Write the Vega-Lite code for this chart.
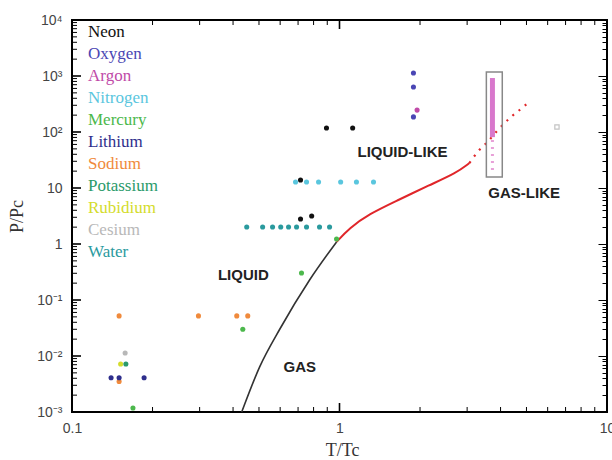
{
  "$schema": "https://vega.github.io/schema/vega-lite/v6.json",
  "width": 535,
  "height": 392,
  "autosize": {"type": "none"},
  "padding": {"left": 72, "top": 20, "right": 5, "bottom": 48},
  "background": "white",
  "config": {
    "view": {"stroke": "#000", "strokeWidth": 2},
    "axis": {
      "domain": false,
      "grid": false,
      "labelFont": "Liberation Sans",
      "labelFontSize": 14,
      "labelColor": "#444",
      "titleFont": "Liberation Serif",
      "titleFontSize": 18,
      "titleFontWeight": "normal",
      "titleColor": "#333"
    }
  },
  "datasets": {
    "points": [
      {"substance": "Sodium", "T": 0.15, "P": 0.052},
      {"substance": "Sodium", "T": 0.297, "P": 0.052},
      {"substance": "Sodium", "T": 0.413, "P": 0.052},
      {"substance": "Sodium", "T": 0.454, "P": 0.052},
      {"substance": "Sodium", "T": 0.15, "P": 0.0035},
      {"substance": "Cesium", "T": 0.158, "P": 0.0113},
      {"substance": "Rubidium", "T": 0.152, "P": 0.0072},
      {"substance": "Potassium", "T": 0.159, "P": 0.0072},
      {"substance": "Lithium", "T": 0.14, "P": 0.0041},
      {"substance": "Lithium", "T": 0.15, "P": 0.0041},
      {"substance": "Lithium", "T": 0.186, "P": 0.0041},
      {"substance": "Mercury", "T": 0.169, "P": 0.00118},
      {"substance": "Mercury", "T": 0.435, "P": 0.03},
      {"substance": "Mercury", "T": 0.721, "P": 0.303},
      {"substance": "Mercury", "T": 0.975, "P": 1.23},
      {"substance": "Water", "T": 0.45, "P": 2.01},
      {"substance": "Water", "T": 0.516, "P": 2.01},
      {"substance": "Water", "T": 0.562, "P": 2.01},
      {"substance": "Water", "T": 0.603, "P": 2.01},
      {"substance": "Water", "T": 0.645, "P": 2.01},
      {"substance": "Water", "T": 0.691, "P": 2.01},
      {"substance": "Water", "T": 0.753, "P": 2.01},
      {"substance": "Water", "T": 0.842, "P": 2.01},
      {"substance": "Water", "T": 0.918, "P": 2.01},
      {"substance": "Nitrogen", "T": 0.685, "P": 12.8},
      {"substance": "Nitrogen", "T": 0.753, "P": 12.8},
      {"substance": "Nitrogen", "T": 0.835, "P": 12.8},
      {"substance": "Nitrogen", "T": 1.01, "P": 12.8},
      {"substance": "Nitrogen", "T": 1.157, "P": 12.8},
      {"substance": "Nitrogen", "T": 1.34, "P": 12.8},
      {"substance": "Neon", "T": 0.894, "P": 118},
      {"substance": "Neon", "T": 1.12, "P": 118},
      {"substance": "Neon", "T": 0.715, "P": 13.9},
      {"substance": "Neon", "T": 0.715, "P": 2.79},
      {"substance": "Neon", "T": 0.787, "P": 3.16},
      {"substance": "Oxygen", "T": 1.89, "P": 1130},
      {"substance": "Oxygen", "T": 1.89, "P": 635},
      {"substance": "Oxygen", "T": 1.89, "P": 186},
      {"substance": "Argon", "T": 1.95, "P": 246}
    ],
    "coexistence": [
      {"T": 0.431, "P": 0.001},
      {"T": 0.503, "P": 0.0064},
      {"T": 0.6, "P": 0.031},
      {"T": 0.773, "P": 0.228},
      {"T": 0.975, "P": 1.09}
    ],
    "widom": [
      {"T": 0.975, "P": 1.09},
      {"T": 1.09, "P": 1.93},
      {"T": 1.29, "P": 3.43},
      {"T": 1.63, "P": 5.86},
      {"T": 2.17, "P": 11.3},
      {"T": 2.73, "P": 18.5},
      {"T": 3.06, "P": 27.9}
    ],
    "widomExt": [
      {"T": 3.06, "P": 27.9},
      {"T": 3.33, "P": 47.7},
      {"T": 3.57, "P": 66},
      {"T": 3.92, "P": 110},
      {"T": 4.38, "P": 186},
      {"T": 4.82, "P": 270},
      {"T": 5.1, "P": 340}
    ],
    "argon": [
      {"substance": "Argon", "T": 3.73, "Plo": 81, "Phi": 920, "part": "dense"},
      {"substance": "Argon", "T": 3.73, "Plo": 21, "Phi": 81, "part": "sparse"}
    ],
    "box": [{"T1": 3.54, "T2": 4.06, "P1": 15.7, "P2": 1180}],
    "cesiumSC": [{"substance": "Cesium", "T": 6.5, "P": 123}],
    "labels": [
      {"label": "LIQUID-LIKE", "T": 1.72, "P": 44},
      {"label": "GAS-LIKE", "T": 4.9, "P": 8.1},
      {"label": "LIQUID", "T": 0.437, "P": 0.28},
      {"label": "GAS", "T": 0.71, "P": 0.0063}
    ],
    "xMinor": [{"T": 0.2}, {"T": 0.3}, {"T": 0.4}, {"T": 0.5}, {"T": 0.6}, {"T": 0.7}, {"T": 0.8}, {"T": 0.9}, {"T": 2}, {"T": 3}, {"T": 4}, {"T": 5}, {"T": 6}, {"T": 7}, {"T": 8}, {"T": 9}],
    "xMajor": [{"T": 0.1}, {"T": 1}, {"T": 10}],
    "yMinor": [{"P": 0.002}, {"P": 0.003}, {"P": 0.004}, {"P": 0.005}, {"P": 0.006}, {"P": 0.007}, {"P": 0.008}, {"P": 0.009}, {"P": 0.02}, {"P": 0.03}, {"P": 0.04}, {"P": 0.05}, {"P": 0.06}, {"P": 0.07}, {"P": 0.08}, {"P": 0.09}, {"P": 0.2}, {"P": 0.3}, {"P": 0.4}, {"P": 0.5}, {"P": 0.6}, {"P": 0.7}, {"P": 0.8}, {"P": 0.9}, {"P": 2}, {"P": 3}, {"P": 4}, {"P": 5}, {"P": 6}, {"P": 7}, {"P": 8}, {"P": 9}, {"P": 20}, {"P": 30}, {"P": 40}, {"P": 50}, {"P": 60}, {"P": 70}, {"P": 80}, {"P": 90}, {"P": 200}, {"P": 300}, {"P": 400}, {"P": 500}, {"P": 600}, {"P": 700}, {"P": 800}, {"P": 900}, {"P": 2000}, {"P": 3000}, {"P": 4000}, {"P": 5000}, {"P": 6000}, {"P": 7000}, {"P": 8000}, {"P": 9000}],
    "yMajor": [{"P": 0.001}, {"P": 0.01}, {"P": 0.1}, {"P": 1}, {"P": 10}, {"P": 100}, {"P": 1000}, {"P": 10000}]
  },
  "resolve": {"axis": {"x": "independent", "y": "independent"}},
  "layer": [
    {
      "data": {"name": "coexistence"},
      "mark": {"type": "line", "color": "#333", "strokeWidth": 1.6, "interpolate": "monotone"},
      "encoding": {
        "x": {
          "field": "T", "type": "quantitative",
          "scale": {"type": "log", "domain": [0.1, 10], "nice": false},
          "axis": {
            "orient": "bottom",
            "values": [0.1, 1, 10],
            "labelExpr": "datum.value==0.1?'0.1':datum.value==1?'1':'10'",
            "labelFlush": false,
            "ticks": false,
            "labelPadding": 9,
            "title": "T/Tc",
            "titleX": 270,
            "titleY": 38,
            "titleBaseline": "middle"
          }
        },
        "y": {
          "field": "P", "type": "quantitative",
          "scale": {"type": "log", "domain": [0.001, 10000], "nice": false},
          "axis": {
            "orient": "left",
            "values": [0.001, 0.01, 0.1, 1, 10, 100, 1000, 10000],
            "labelExpr": "datum.value==10000?'10⁴':datum.value==1000?'10³':datum.value==100?'10²':datum.value==10?'10':datum.value==1?'1':datum.value==0.1?'10⁻¹':datum.value==0.01?'10⁻²':'10⁻³'",
            "ticks": false,
            "labelPadding": 10,
            "title": "P/Pc",
            "titleX": -55,
            "titleY": 196,
            "titleAngle": -90,
            "titleBaseline": "middle",
            "titleAlign": "center"
          }
        }
      }
    },
    {
      "data": {"name": "coexistence"},
      "mark": {"type": "point", "opacity": 0},
      "encoding": {
        "x": {"field": "T", "type": "quantitative", "axis": null},
        "y": {
          "field": "P", "type": "quantitative",
          "axis": {"orient": "right", "values": [0.002,0.003,0.004,0.005,0.006,0.007,0.008,0.009,0.02,0.03,0.04,0.05,0.06,0.07,0.08,0.09,0.2,0.3,0.4,0.5,0.6,0.7,0.8,0.9,2,3,4,5,6,7,8,9,20,30,40,50,60,70,80,90,200,300,400,500,600,700,800,900,2000,3000,4000,5000,6000,7000,8000,9000], "labels": false, "title": null, "tickSize": -5, "tickColor": "#000"}
        }
      }
    },
    {
      "data": {"name": "coexistence"},
      "mark": {"type": "point", "opacity": 0},
      "encoding": {
        "x": {"field": "T", "type": "quantitative", "axis": null},
        "y": {
          "field": "P", "type": "quantitative",
          "axis": {"orient": "right", "values": [0.001,0.01,0.1,1,10,100,1000,10000], "labels": false, "title": null, "tickSize": -9, "tickColor": "#000"}
        }
      }
    },
    {
      "data": {"name": "yMinor"},
      "mark": {"type": "tick", "orient": "horizontal", "color": "#000", "opacity": 1, "size": 5, "thickness": 1, "xOffset": 2.5},
      "encoding": {
        "x": {"datum": 0.1, "type": "quantitative", "axis": null},
        "y": {"field": "P", "type": "quantitative", "axis": null}
      }
    },
    {
      "data": {"name": "yMajor"},
      "mark": {"type": "tick", "orient": "horizontal", "color": "#000", "opacity": 1, "size": 9, "thickness": 1.6, "xOffset": 4.5},
      "encoding": {
        "x": {"datum": 0.1, "type": "quantitative", "axis": null},
        "y": {"field": "P", "type": "quantitative", "axis": null}
      }
    },
    {
      "data": {"name": "xMinor"},
      "mark": {"type": "tick", "orient": "vertical", "color": "#000", "opacity": 1, "size": 5, "thickness": 1, "yOffset": -2.5},
      "encoding": {
        "x": {"field": "T", "type": "quantitative", "axis": null},
        "y": {"datum": 0.001, "type": "quantitative", "axis": null}
      }
    },
    {
      "data": {"name": "xMajor"},
      "mark": {"type": "tick", "orient": "vertical", "color": "#000", "opacity": 1, "size": 9, "thickness": 1.6, "yOffset": -4.5},
      "encoding": {
        "x": {"field": "T", "type": "quantitative", "axis": null},
        "y": {"datum": 0.001, "type": "quantitative", "axis": null}
      }
    },
    {
      "data": {"name": "xMinor"},
      "mark": {"type": "tick", "orient": "vertical", "color": "#000", "opacity": 1, "size": 5, "thickness": 1, "yOffset": 2.5},
      "encoding": {
        "x": {"field": "T", "type": "quantitative", "axis": null},
        "y": {"datum": 10000, "type": "quantitative", "axis": null}
      }
    },
    {
      "data": {"name": "xMajor"},
      "mark": {"type": "tick", "orient": "vertical", "color": "#000", "opacity": 1, "size": 9, "thickness": 1.6, "yOffset": 4.5},
      "encoding": {
        "x": {"field": "T", "type": "quantitative", "axis": null},
        "y": {"datum": 10000, "type": "quantitative", "axis": null}
      }
    },
    {
      "data": {"name": "widom"},
      "mark": {"type": "line", "color": "#e0262a", "strokeWidth": 2, "interpolate": "basis"},
      "encoding": {
        "x": {"field": "T", "type": "quantitative", "axis": null},
        "y": {"field": "P", "type": "quantitative", "axis": null}
      }
    },
    {
      "data": {"name": "widomExt"},
      "mark": {"type": "line", "color": "#e0262a", "strokeWidth": 2.2, "strokeDash": [2, 6], "interpolate": "monotone"},
      "encoding": {
        "x": {"field": "T", "type": "quantitative", "axis": null},
        "y": {"field": "P", "type": "quantitative", "axis": null}
      }
    },
    {
      "data": {"name": "box"},
      "mark": {"type": "rect", "fill": null, "stroke": "#888", "strokeWidth": 1.5},
      "encoding": {
        "x": {"field": "T1", "type": "quantitative", "axis": null},
        "x2": {"field": "T2"},
        "y": {"field": "P1", "type": "quantitative", "axis": null},
        "y2": {"field": "P2"}
      }
    },
    {
      "data": {"name": "argon"},
      "transform": [{"filter": "datum.part=='dense'"}],
      "mark": {"type": "rule", "color": "#d878cc", "strokeWidth": 5, "strokeCap": "butt"},
      "encoding": {
        "x": {"field": "T", "type": "quantitative", "axis": null},
        "y": {"field": "Plo", "type": "quantitative", "axis": null},
        "y2": {"field": "Phi"}
      }
    },
    {
      "data": {"name": "argon"},
      "transform": [{"filter": "datum.part=='sparse'"}],
      "mark": {"type": "rule", "color": "#e8a0d8", "strokeWidth": 3, "strokeCap": "butt", "strokeDash": [2, 5]},
      "encoding": {
        "x": {"field": "T", "type": "quantitative", "axis": null},
        "y": {"field": "Plo", "type": "quantitative", "axis": null},
        "y2": {"field": "Phi"}
      }
    },
    {
      "data": {"name": "cesiumSC"},
      "mark": {"type": "point", "shape": "square", "filled": false, "color": "#aaa", "size": 18, "strokeWidth": 1.2},
      "encoding": {
        "x": {"field": "T", "type": "quantitative", "axis": null},
        "y": {"field": "P", "type": "quantitative", "axis": null}
      }
    },
    {
      "data": {"name": "points"},
      "mark": {"type": "circle", "size": 26, "opacity": 1},
      "encoding": {
        "x": {"field": "T", "type": "quantitative", "axis": null},
        "y": {"field": "P", "type": "quantitative", "axis": null},
        "color": {
          "field": "substance", "type": "nominal",
          "scale": {
            "domain": ["Neon", "Oxygen", "Argon", "Nitrogen", "Mercury", "Lithium", "Sodium", "Potassium", "Rubidium", "Cesium", "Water"],
            "range": ["#111111", "#4a46b4", "#c04aa8", "#5ac6de", "#4cb84c", "#2e2e8c", "#f08a3c", "#2a9a6a", "#d4dc2c", "#b8b8b8", "#2a9a9e"]
          },
          "legend": {
            "orient": "none",
            "legendX": -1,
            "legendY": 3,
            "padding": 0,
            "title": null,
            "symbolSize": 0,
            "symbolOpacity": 0,
            "symbolStrokeWidth": 0,
            "labelOffset": 0,
            "labelFont": "Liberation Serif",
            "labelFontSize": 17,
            "labelLimit": 300,
            "rowPadding": 4,
            "encode": {"labels": {"update": {"fill": {"scale": "color", "field": "value"}}}}
          }
        }
      }
    },
    {
      "data": {"name": "labels"},
      "mark": {"type": "text", "font": "Liberation Sans", "fontSize": 15, "fontWeight": "bold", "color": "#222", "align": "center", "baseline": "middle"},
      "encoding": {
        "x": {"field": "T", "type": "quantitative", "axis": null},
        "y": {"field": "P", "type": "quantitative", "axis": null},
        "text": {"field": "label"}
      }
    }
  ]
}
